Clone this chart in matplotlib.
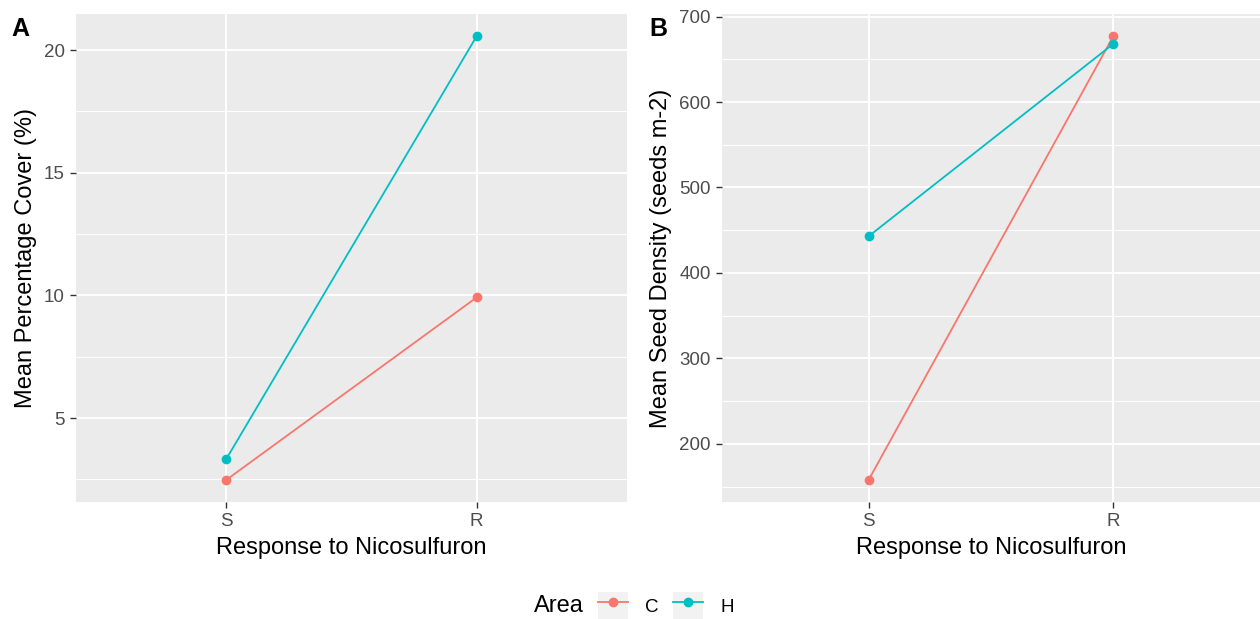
import numpy as np
from matplotlib import pyplot as plt
from matplotlib.ticker import MultipleLocator
from matplotlib.lines import Line2D
from matplotlib.patches import Rectangle
from matplotlib.legend_handler import HandlerTuple

plt.rcParams['font.family'] = ['Liberation Sans', 'DejaVu Sans']

# data
responses = ['S', 'R']
areas = ['C', 'H']
colors = {'C': '#F8766D', 'H': '#00BFC4'}
cover = {'C': [2.48, 9.92], 'H': [3.33, 20.57]}
seed_density = {'C': [158, 677], 'H': [443, 668]}

BG = '#EBEBEB'


def style_panel(ax, major, minor):
    ax.set_facecolor(BG)
    for s in ax.spines.values():
        s.set_visible(False)
    ax.yaxis.set_major_locator(MultipleLocator(major))
    ax.yaxis.set_minor_locator(MultipleLocator(minor))
    ax.set_xticks(range(1, len(responses) + 1))
    ax.set_xticklabels(responses)
    ax.grid(which='major', color='white', linewidth=1.4)
    ax.grid(which='minor', axis='y', color='white', linewidth=0.7)
    ax.set_axisbelow(True)
    ax.tick_params(which='major', length=4.5, width=1, color='#333333',
                   labelsize=13.5, labelcolor='#4D4D4D', pad=3.5)
    ax.tick_params(which='minor', length=0)
    ax.set_xlim(0.4, 2.6)
    ax.set_xlabel('Response to Nicosulfuron', fontsize=17, labelpad=5)


def draw(ax, data):
    x = np.arange(1, len(responses) + 1)
    for a in areas:
        ax.plot(x, data[a], color=colors[a], linewidth=1.3,
                marker='o', markersize=6)


fig = plt.figure(figsize=(12.6, 6.19), dpi=100)
axA = fig.add_axes([76 / 1260, 1 - 502 / 619, 551 / 1260, 488 / 619])
axB = fig.add_axes([722 / 1260, 1 - 502 / 619, 538 / 1260, 488 / 619])

draw(axA, cover)
style_panel(axA, 5, 2.5)
axA.set_ylim(1.58, 21.47)
axA.set_ylabel('Mean Percentage Cover (%)', fontsize=17, labelpad=5)

draw(axB, seed_density)
style_panel(axB, 100, 50)
axB.set_ylim(132, 703)
axB.set_ylabel('Mean Seed Density (seeds m-2)', fontsize=17, labelpad=5)

fig.text(11 / 1260, 1 - 29 / 619, 'A', fontsize=18, fontweight='bold', va='center')
fig.text(649 / 1260, 1 - 29 / 619, 'B', fontsize=18, fontweight='bold', va='center')

# legend: title on the left, keys in a row with light grey key boxes
fig.text(534 / 1260, 1 - 606 / 619, 'Area', fontsize=17, va='center')
handles = []
for a in areas:
    box = Rectangle((0, 0), 1, 1, facecolor='#F2F2F2', edgecolor='none')
    ln = Line2D([0], [0], color=colors[a], linewidth=1.3, marker='o',
                markersize=6)
    handles.append((box, ln))
fig.legend(handles, areas, loc='center left',
           bbox_to_anchor=(598 / 1260, 1 - 606 / 619), ncol=2,
           frameon=False, fontsize=13.5, borderaxespad=0, borderpad=0,
           handlelength=1.6, handleheight=1.9, handletextpad=0.9,
           columnspacing=0.8,
           handler_map={tuple: HandlerTuple(ndivide=1, pad=0)})

fig.savefig('out.png', dpi=100)
